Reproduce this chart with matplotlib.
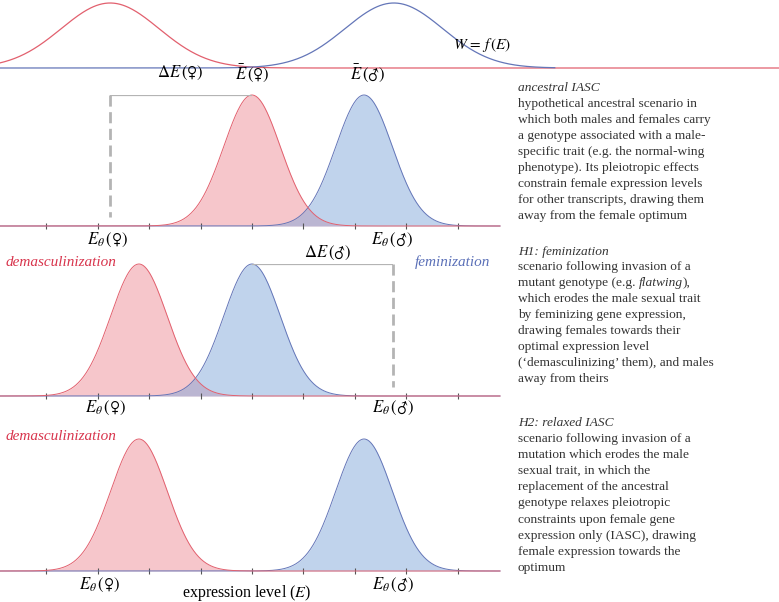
import numpy as np
import matplotlib
matplotlib.use('Agg')
import matplotlib.pyplot as plt

plt.rcParams['font.family'] = ['Liberation Serif', 'DejaVu Sans']
plt.rcParams['mathtext.fontset'] = 'stix'

# values (expression level, arbitrary units)
fitness_opt = [-2.76, 2.76]      # female, male optima of W = f(E)
fitness_sd = 0.95
female_mean = [0.0, -2.2, -2.2]  # ancestral, H1, H2
male_mean = [2.18, 0.0, 2.18]
expr_sd = 0.55
female_opt = -2.76
male_opt = 2.74
tick_pos = [-4, -3, -2, -1, 0, 1, 2, 3, 4]

RED = '#e2606e'
BLUE = '#6476b8'
RED_FILL = '#ef8f98'
BLUE_FILL = '#82a8da'
GREY = '#b4b4b4'
TXT = '#333333'
W, H = 779, 602
X0, PXU = 252, 51.4  # pixel of E=0 and pixels per unit


def gauss(x, m, s):
    return np.exp(-0.5 * ((x - m) / s) ** 2)


fig = plt.figure(figsize=(W / 100, H / 100), dpi=100)


def add_ax(x0, x1, base, top):
    ax = fig.add_axes([x0 / W, 1 - base / H, (x1 - x0) / W, (base - top) / H])
    ax.set_xlim((x0 - X0) / PXU, (x1 - X0) / PXU)
    ax.set_ylim(0, 1)
    for sp in ax.spines.values():
        sp.set_visible(False)
    ax.set_yticks([])
    ax.patch.set_alpha(0)
    ax.base, ax.top = base, top
    return ax


def yd(ax, ypx):
    return (ax.base - ypx) / (ax.base - ax.top)


# fitness functions
top = add_ax(0, W, 68, 3)
top.set_xticks([])
xe = np.linspace(*top.get_xlim(), 800)
top.plot(xe, gauss(xe, fitness_opt[0], fitness_sd), color=RED, lw=0.9, clip_on=False)
xb = xe[xe < 5.9]
top.plot(xb, gauss(xb, fitness_opt[1], fitness_sd), color=BLUE, lw=0.9, clip_on=False)
top.text(4.47, yd(top, 45), r'$W\/=\/f\,(E)$', fontsize=11, ha='center', va='center')

panels = [add_ax(0, 500, 226, 95), add_ax(0, 500, 396, 264), add_ax(0, 500, 571, 439)]
for i, ax in enumerate(panels):
    x = np.linspace(*ax.get_xlim(), 600)
    yf = gauss(x, female_mean[i], expr_sd)
    ym = gauss(x, male_mean[i], expr_sd)
    ax.fill_between(x, yf, color=RED_FILL, alpha=0.5, lw=0)
    ax.fill_between(x, ym, color=BLUE_FILL, alpha=0.5, lw=0)
    ax.plot(x, ym, color=BLUE, lw=0.7, clip_on=False)
    ax.plot(x, yf, color=RED, lw=0.7, clip_on=False)
    ax.set_xticks(tick_pos)
    ax.set_xticklabels([])
    ax.tick_params(axis='x', direction='inout', length=4, width=0.8, color='#555555')

lab_kw = dict(fontsize=12, ha='center', va='center')
FEM = '\\,(\u2640)$'
MAL = '\\,(\u2642)$'

# ancestral IASC
ax = panels[0]
ax.plot([female_opt, female_mean[0]], [1, 1], color=GREY, lw=1.6, solid_capstyle='butt')
ax.plot([female_opt, female_opt], [1, yd(ax, 217)], color=GREY, lw=2, ls=(0, (4, 2)))
ax.text(-1.4, yd(ax, 73), r'$\Delta E' + FEM, **lab_kw)
ax.text(female_mean[0], yd(ax, 73), r'$\bar{E}' + FEM, **lab_kw)
ax.text(male_mean[0] + 0.08, yd(ax, 73), r'$\bar{E}' + MAL, **lab_kw)
ax.text(-2.82, yd(ax, 240), r'$E_\theta' + FEM, **lab_kw)
ax.text(2.72, yd(ax, 240), r'$E_\theta' + MAL, **lab_kw)

# H1: feminization
ax = panels[1]
ax.plot([male_mean[1], male_opt], [1, 1], color=GREY, lw=1.6, solid_capstyle='butt')
ax.plot([male_opt, male_opt], [1, yd(ax, 387)], color=GREY, lw=2, ls=(0, (4, 2)))
ax.text(1.48, yd(ax, 253), r'$\Delta E' + MAL, **lab_kw)
ax.text(-2.85, yd(ax, 408), r'$E_\theta' + FEM, **lab_kw)
ax.text(2.74, yd(ax, 408), r'$E_\theta' + MAL, **lab_kw)
ax.text(-4.8, yd(ax, 262), 'demasculinization', color='#d8344c', style='italic',
        fontsize=11, ha='left', va='center')
ax.text(4.63, yd(ax, 262), 'feminization', color='#5b70b8', style='italic',
        fontsize=11, ha='right', va='center')

# H2: relaxed IASC
ax = panels[2]
ax.text(-4.8, yd(ax, 437), 'demasculinization', color='#d8344c', style='italic',
        fontsize=11, ha='left', va='center')
ax.text(-2.96, yd(ax, 585), r'$E_\theta' + FEM, **lab_kw)
ax.text(2.74, yd(ax, 585), r'$E_\theta' + MAL, **lab_kw)
ax.text(-0.1, yd(ax, 593), r'expression level ($E$)', fontsize=11.5, ha='center', va='center')

# right-hand descriptions; parts in a list are (text, italic)
blocks = [
    ('ancestral IASC', 88, 104, 16.0, [
        'hypothetical ancestral scenario in',
        'which both males and females carry',
        'a genotype associated with a male-',
        'specific trait (e.g. the normal-wing',
        'phenotype). Its pleiotropic effects',
        'constrain female expression levels',
        'for other transcripts, drawing them',
        'away from the female optimum']),
    ('H1: feminization', 252, 267, 16.0, [
        'scenario following invasion of a',
        [('mutant genotype (e.g. ', False), ('flatwing', True), ('),', False)],
        'which erodes the male sexual trait',
        'by feminizing gene expression,',
        'drawing females towards their',
        'optimal expression level',
        '(\u2018demasculinizing\u2019 them), and males',
        'away from theirs']),
    ('H2: relaxed IASC', 423, 439, 16.1, [
        'scenario following invasion of a',
        'mutation which erodes the male',
        'sexual trait, in which the',
        'replacement of the ancestral',
        'genotype relaxes pleiotropic',
        'constraints upon female gene',
        'expression only (IASC), drawing',
        'female expression towards the',
        'optimum']),
]
fs = 9.6
renderer = fig.canvas.get_renderer()
for title, ty, y0, dy, lines in blocks:
    fig.text(518 / W, 1 - ty / H, title, style='italic', fontsize=fs,
             color=TXT, ha='left', va='center')
    for k, line in enumerate(lines):
        yy = 1 - (y0 + k * dy) / H
        if isinstance(line, str):
            line = [(line, False)]
        xx = 518 / W
        for part, it in line:
            t = fig.text(xx, yy, part, fontsize=fs, color=TXT, ha='left', va='center',
                         style='italic' if it else 'normal')
            xx = fig.transFigure.inverted().transform(
                (t.get_window_extent(renderer).x1, 0))[0]

fig.savefig('out.png', dpi=100)
